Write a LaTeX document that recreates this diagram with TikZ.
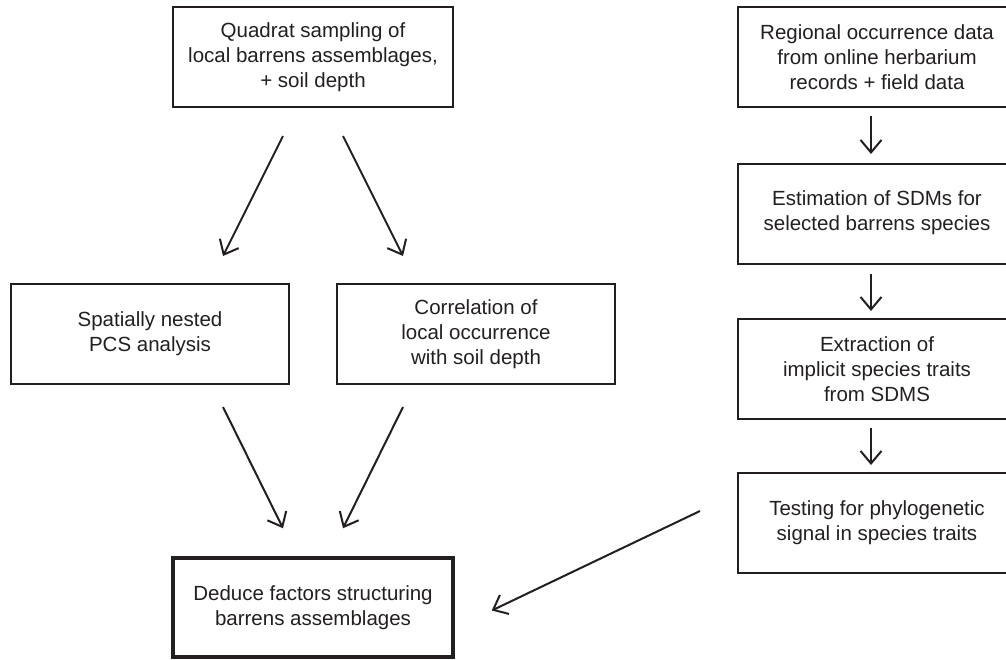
\documentclass[tikz,border=0pt]{standalone}
\usepackage{fontspec}
\setmainfont{Liberation Sans}
\usetikzlibrary{arrows.meta,calc}
\definecolor{ink}{HTML}{231F20}
\tikzset{
  box/.style={draw=ink, line width=2pt, minimum width=278pt, minimum height=100pt,
    inner sep=0pt, align=center, text=ink, font=\fontsize{20.5}{25}\selectfont},
  thickbox/.style={box, line width=3.5pt},
  arr/.style={draw=ink, line width=2pt, -{Straight Barb[length=12.5pt,width=21pt,line width=2pt]}},
}
\begin{document}
\begin{tikzpicture}[x=1pt,y=-1pt]
\useasboundingbox (0,0) rectangle (1006,659);
\clip (0,0) rectangle (1006,659);
\node[box, minimum width=280pt] (A) at (313,57) {Quadrat sampling of\\local barrens assemblages,\\+ soil depth};
\node[box] (B) at (150,334) {Spatially nested\\PCS analysis};
\node[box] (C) at (476,334) {Correlation of\\local occurrence\\with soil depth};
\node[thickbox, minimum width=280pt, minimum height=99pt] (D) at (313,607.5) {Deduce factors structuring\\barrens assemblages};
\node[box] (R1) at (877,57) {Regional occurrence data\\from online herbarium\\records + field data};
\node[box, text depth=6pt] (R2) at (877,214) {Estimation of SDMs for\\selected barrens species};
\node[box] (R3) at (877,369) {Extraction of\\implicit species traits\\from SDMS};
\node[box] (R4) at (877,523) {Testing for phylogenetic\\signal in species traits};
\draw[arr] ($(A.south)+(-30,28)$) -- ($(B.north)+(73,-27)$);
\draw[arr] ($(A.south)+(30,28)$) -- ($(C.north)+(-73,-27)$);
\draw[arr] ($(B.south)+(73,22)$) -- ($(D.north)+(-30,-28)$);
\draw[arr] ($(C.south)+(-73,22)$) -- ($(D.north)+(30,-28)$);
\draw[arr] ($(R1.south)+(-6,8)$) -- ($(R2.north)+(-6,-9)$);
\draw[arr] ($(R2.south)+(-6,9)$) -- ($(R3.north)+(-6,-7)$);
\draw[arr] ($(R3.south)+(-6,8)$) -- ($(R4.north)+(-6,-7)$);
\draw[arr] ($(R4.west)+(-37,-12)$) -- ($(D.east)+(37,3)$);
\end{tikzpicture}
\end{document}
